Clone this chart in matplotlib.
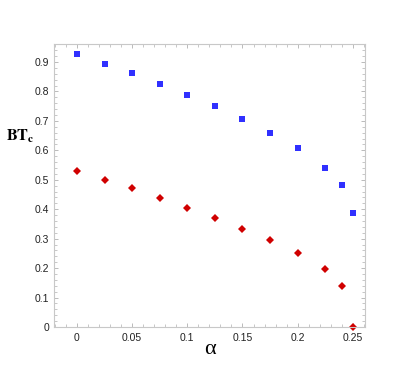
import matplotlib
matplotlib.use("Agg")
import matplotlib.pyplot as plt
from matplotlib.ticker import MultipleLocator, FixedLocator

alpha = [0, 0.025, 0.05, 0.075, 0.1, 0.125, 0.15, 0.175, 0.2, 0.225, 0.24, 0.25]
bt_blue = [0.927, 0.894, 0.861, 0.825, 0.789, 0.750, 0.707, 0.660, 0.607, 0.540, 0.482, 0.387]
bt_red = [0.530, 0.500, 0.471, 0.438, 0.405, 0.371, 0.334, 0.296, 0.251, 0.197, 0.140, 0.0]
xticks = [0, 0.05, 0.1, 0.15, 0.2, 0.25]
xticklabels = ["0", "0.05", "0.1", "0.15", "0.2", "0.25"]
yticks = [0, 0.1, 0.2, 0.3, 0.4, 0.5, 0.6, 0.7, 0.8, 0.9]
yticklabels = ["0", "0.1", "0.2", "0.3", "0.4", "0.5", "0.6", "0.7", "0.8", "0.9"]

plt.rcParams['font.family'] = ['Liberation Sans', 'DejaVu Sans']

fig = plt.figure(figsize=(4.15, 3.69), dpi=100)
ax = fig.add_axes([0.130, 0.1138, 0.7495, 0.767])

ax.plot(alpha, bt_blue, linestyle='none', marker='s', markersize=4.3,
        color='#3030ff', markeredgewidth=0, clip_on=False)
ax.plot(alpha, bt_red, linestyle='none', marker='D', markersize=4.0,
        color='#d00000', markeredgewidth=0, clip_on=False)

ax.set_xlim(-0.0208, 0.261)
ax.set_ylim(0, 0.961)
ax.xaxis.set_major_locator(FixedLocator(xticks))
ax.set_xticklabels(xticklabels)
ax.yaxis.set_major_locator(FixedLocator(yticks))
ax.set_yticklabels(yticklabels)
ax.xaxis.set_minor_locator(MultipleLocator(0.01))
ax.yaxis.set_minor_locator(MultipleLocator(0.02))

for s in ax.spines.values():
    s.set_color('#c8c8c8')
    s.set_linewidth(0.8)
ax.tick_params(which='both', direction='in', color='#b0b0b0', labelsize=7.5,
               labelcolor='#222222', top=True, right=True, labeltop=False, labelright=False)
ax.tick_params(which='major', length=3, width=0.6)
ax.tick_params(which='minor', length=2, width=0.5)
ax.tick_params(axis='x', which='major', pad=4)
ax.tick_params(axis='y', which='major', pad=3.5)

ax.set_xlabel('α', fontsize=16, family=['Liberation Serif', 'DejaVu Serif'], labelpad=-2)
ax.text(-0.064, 0.675, r'$\mathbf{BT}_{\mathbf{c}}$', transform=ax.transAxes,
        fontsize=11.5, ha='right', va='center', math_fontfamily='stix')

fig.savefig("out.png", dpi=100)
